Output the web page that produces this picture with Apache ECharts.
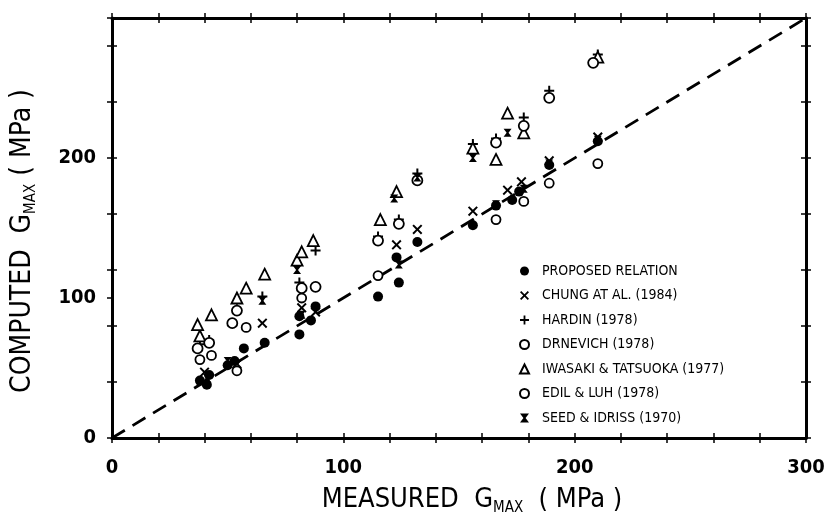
<!DOCTYPE html>
<html>
<head>
<meta charset="utf-8">
<script src="https://cdn.jsdelivr.net/npm/echarts@6/dist/echarts.min.js"></script>
<style>html,body{margin:0;padding:0;background:#fff;}#c{width:829px;height:522px;}</style>
</head>
<body>
<div id="c"></div>
<script>
// ---- data (measured G_MAX, computed G_MAX) in MPa ----
const seriesNames = ['PROPOSED RELATION','CHUNG AT AL. (1984)','HARDIN (1978)','DRNEVICH (1978)','IWASAKI & TATSUOKA (1977)','EDIL & LUH (1978)','SEED & IDRISS (1970)'];
const proposed = [[38,41],[41,38],[42,45],[50,52],[53,55],[57,64],[66,68],[81,74],[81,87],[86,84],[88,94],[115,101],[124,111],[123,129],[132,140],[156,152],[166,166],[173,170],[176,176],[189,195],[210,212]];
const chung = [[40,47],[54,53],[65,82],[82,93],[88,90],[123,138],[132,149],[156,162],[171,177],[177,183],[189,198],[210,215]];
const hardin = [[38,67],[42,70],[54,92],[65,101],[81,111],[88,134],[115,144],[124,156],[132,189],[156,210],[166,214],[178,229],[189,248],[210,274]];
const drnevich = [[38,56],[43,59],[54,48],[58,79],[82,100],[115,116],[166,156],[178,169],[189,182],[210,196]];
const iwasaki = [[38,73],[37,81],[43,88],[54,100],[58,107],[66,117],[80,127],[82,133],[87,141],[116,156],[123,176],[156,207],[166,199],[171,232],[178,218],[210,272]];
const edil = [[37,64],[42,68],[52,82],[54,91],[82,107],[88,108],[115,141],[124,153],[132,184],[166,211],[178,223],[189,243],[208,268]];
const seed = [[65,98],[80,120],[122,171],[132,186],[156,200],[171,218],[41,43],[50,55],[82,88],[124,124],[166,167],[178,178],[189,196],[210,213]];
const equalityLine = [[0,0],[300,300]];
const axisMin = 0, axisMax = 300;
const xLabelValues = [0,100,200,300];
const yLabelValues = [0,100,200];

const FONT = "'Liberation Sans Narrow','DejaVu Sans Condensed','Liberation Sans',sans-serif";
const SYM_X = 'path://M0,1.4L1.4,0L5,3.6L8.6,0L10,1.4L6.4,5L10,8.6L8.6,10L5,6.4L1.4,10L0,8.6L3.6,5Z';
const SYM_PLUS = 'path://M4,0H6V4H10V6H6V10H4V6H0V4H4Z';
const SYM_SEED = 'path://M0,0L10,0L6.2,5L10,10L0,10L3.8,5Z';

const chart = echarts.init(document.getElementById('c'), null, {renderer:'canvas'});
const thick = {show:true, onZero:false, lineStyle:{color:'#000', width:3}};
const noLine = {show:false, onZero:false};

function xAx(pos, inside, showLine, showLabel){
  return {type:'value', min:axisMin, max:axisMax, interval:20, position:pos,
    axisLine: showLine ? thick : noLine,
    axisTick:{show:true, inside:inside, length:5, lineStyle:{color:'#000', width:1.5}},
    axisLabel:{show:showLabel, margin:20, color:'#000', fontFamily:FONT, fontSize:20, fontWeight:'bold',
      formatter:v => xLabelValues.indexOf(v) >= 0 ? String(v) : ''},
    splitLine:{show:false}};
}
function yAx(pos, interval, inside, showLine, showLabel){
  return {type:'value', min:axisMin, max:axisMax, interval:interval, position:pos,
    axisLine: showLine ? thick : noLine,
    axisTick:{show:true, inside:inside, length:5, lineStyle:{color:'#000', width:1.5}},
    axisLabel:{show:showLabel, margin:16, color:'#000', fontFamily:FONT, fontSize:20, fontWeight:'bold',
      formatter:v => yLabelValues.indexOf(v) >= 0 ? String(v) : ''},
    splitLine:{show:false}};
}

const xAxes = [xAx('bottom', false, true, true), xAx('bottom', true, false, false), xAx('top', false, true, false), xAx('top', true, false, false)];
xAxes[0].name = '{a|MEASURED  G}{s|MAX}{a|  ( MPa )}';
xAxes[0].nameLocation = 'middle';
xAxes[0].nameGap = 46;
xAxes[0].nameTextStyle = {padding:[0,0,0,26], rich:{
  a:{fontFamily:FONT, fontSize:27, color:'#000'},
  s:{fontFamily:FONT, fontSize:15, color:'#000', padding:[17,0,0,0]}}};

const yAxes = [yAx('left', 100, false, true, true), yAx('left', 40, false, false, false), yAx('left', 40, true, false, false), yAx('right', 40, false, true, false), yAx('right', 40, true, false, false)];
yAxes[0].name = '{a|COMPUTED  G}{s|MAX}{a| ( MPa )}';
yAxes[0].nameLocation = 'middle';
yAxes[0].nameGap = 73;
yAxes[0].nameRotate = 90;
yAxes[0].nameTextStyle = {padding:[0,26,0,0], rich:{
  a:{fontFamily:FONT, fontSize:28, color:'#000'},
  s:{fontFamily:FONT, fontSize:15, color:'#000', padding:[17,0,0,0]}}};

function sc(name, data, symbol, size, hollow){
  return {type:'scatter', name:name, data:data, symbol:symbol, symbolSize:size,
    itemStyle: hollow ? {color:'#fff', borderColor:'#000', borderWidth:1.8, opacity:1} : {color:'#000', borderWidth:0, opacity:1},
    emphasis:{disabled:true}, z:3};
}

chart.setOption({
  animation:false,
  backgroundColor:'#fff',
  grid:{left:112, right:23, top:18, bottom:84, containLabel:false, outerBoundsMode:'none'},
  xAxis: xAxes,
  yAxis: yAxes,
  legend:{orient:'vertical', left:514, top:259, itemWidth:9, itemHeight:9, itemGap:10.5,
    data:seriesNames,
    textStyle:{fontFamily:FONT, fontSize:14, color:'#000', padding:[0,0,0,8]},
    selectedMode:false},
  series:[
    {type:'line', name:'equality', data:equalityLine, symbol:'none', silent:true,
      lineStyle:{color:'#000', width:2.8, type:[15,9]}, z:2},
    sc(seriesNames[0], proposed, 'circle', 10, false),
    sc(seriesNames[1], chung, SYM_X, 10, false),
    sc(seriesNames[2], hardin, SYM_PLUS, 10, false),
    sc(seriesNames[3], drnevich, 'circle', 9, true),
    sc(seriesNames[4], iwasaki, 'triangle', 11, true),
    sc(seriesNames[5], edil, 'circle', 10, true),
    sc(seriesNames[6], seed, SYM_SEED, 8, false)
  ]
});
</script>
</body>
</html>
